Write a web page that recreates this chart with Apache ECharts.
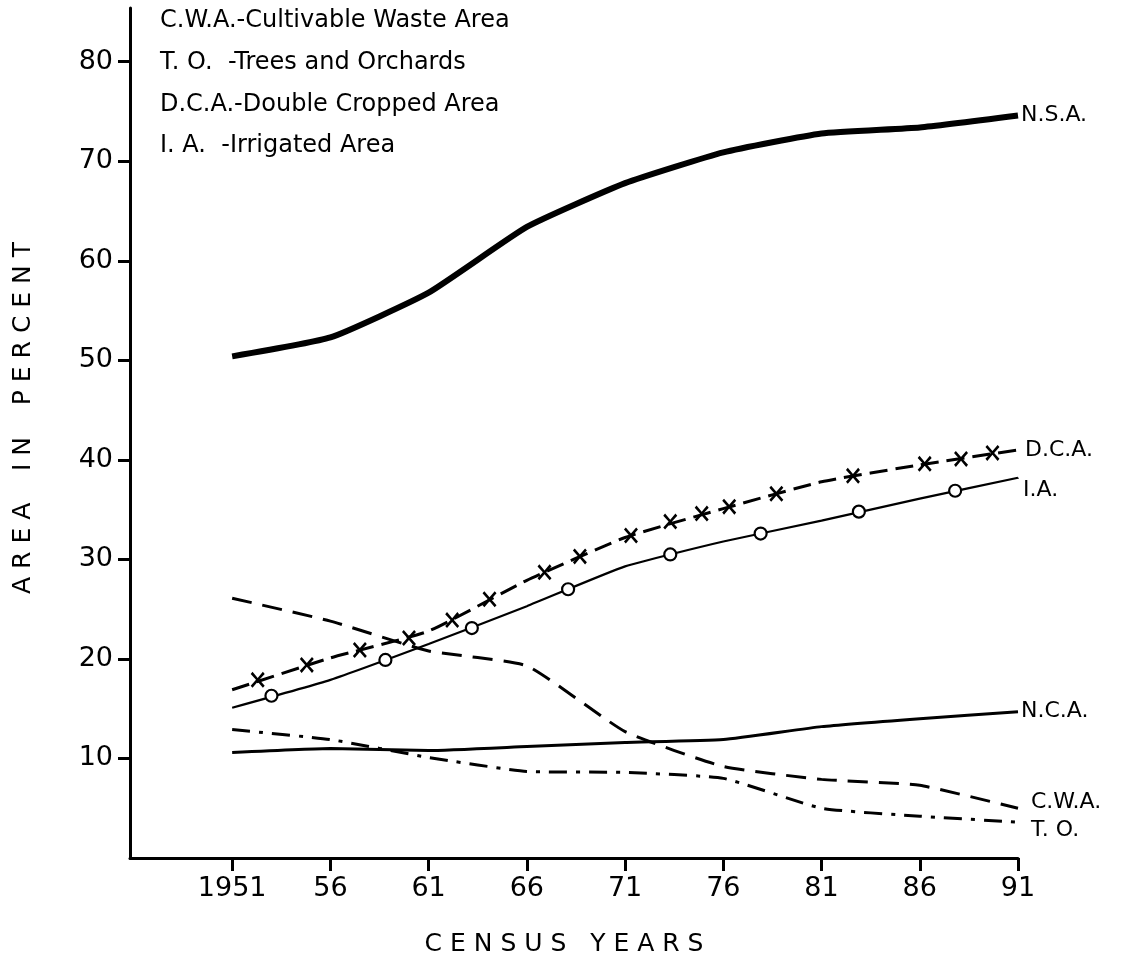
<!DOCTYPE html>
<html>
<head>
<meta charset="utf-8">
<script src="https://cdn.jsdelivr.net/npm/echarts@6/dist/echarts.min.js"></script>
<style>
html,body{margin:0;padding:0;background:#fff;}
#chart{width:1132px;height:962px;}
</style>
</head>
<body>
<div id="chart"></div>
<script>
// ---- data ----
const years = [1951, 1956, 1961, 1966, 1971, 1976, 1981, 1986, 1991];
const tickLabels = ['1951', '56', '61', '66', '71', '76', '81', '86', '91'];
const yTicks = [10, 20, 30, 40, 50, 60, 70, 80];
const nsa = [50.4, 52.3, 56.8, 63.4, 67.8, 70.9, 72.8, 73.4, 74.6];
const dca = [16.9, 20.1, 22.8, 27.9, 32.2, 35.1, 37.8, 39.5, 41.0];
const ia  = [15.1, 17.9, 21.5, 25.3, 29.3, 31.8, 33.9, 36.1, 38.2];
const nca = [10.6, 11.0, 10.8, 11.2, 11.6, 11.9, 13.2, 14.0, 14.7];
const cwa = [26.1, 23.8, 20.8, 19.3, 12.7, 9.2, 7.9, 7.3, 5.0];
const tro = [12.9, 11.9, 10.1, 8.7, 8.6, 8.0, 5.0, 4.2, 3.6];
// marker positions drawn along the D.C.A. and I.A. curves
const dcaMarkYears = [1952.3, 1954.8, 1957.5, 1960.0, 1962.2, 1964.1, 1966.9, 1968.7, 1971.3, 1973.3, 1974.9, 1976.3, 1978.7, 1982.6, 1986.25, 1988.1, 1989.7];
const dcaMarkVals  = [17.9, 19.4, 20.9, 22.1, 23.9, 26.0, 28.7, 30.3, 32.4, 33.8, 34.6, 35.3, 36.6, 38.4, 39.6, 40.1, 40.7];
const iaMarkYears = [1953.0, 1958.8, 1963.2, 1968.1, 1973.3, 1977.9, 1982.9, 1987.8];
const iaMarkVals  = [16.3, 19.9, 23.1, 27.0, 30.5, 32.6, 34.8, 36.9];
const legendLines = ['C.W.A.-Cultivable Waste Area', 'T. O.  -Trees and Orchards', 'D.C.A.-Double Cropped Area', 'I. A.  -Irrigated Area'];
const seriesNames = ['N.S.A.', 'D.C.A.', 'I.A.', 'N.C.A.', 'C.W.A.', 'T. O.'];

const pair = (xs, ys) => xs.map((x, i) => [x, ys[i]]);
const FONT = 'DejaVu Sans';

function lineSeries(name, vals, width, type, labelOffset) {
  return {
    name: name, type: 'line', data: pair(years, vals),
    showSymbol: false, smooth: 0.15, z: 3,
    lineStyle: { color: '#000', width: width, type: type, cap: 'butt' },
    endLabel: { show: true, formatter: name, color: '#000', fontFamily: FONT, fontSize: 22,
                offset: labelOffset, distance: 3 },
    emphasis: { disabled: true }, silent: true
  };
}

const chart = echarts.init(document.getElementById('chart'), null, { renderer: 'canvas' });
chart.setOption({
  backgroundColor: '#fff',
  animation: false,
  grid: { left: 130, right: 114, top: 8, bottom: 104, containLabel: false },
  xAxis: {
    type: 'value', min: 1945.8, max: 1991,
    axisLine: { show: true, lineStyle: { color: '#000', width: 3 } },
    axisTick: { show: true, customValues: years, length: 13, lineStyle: { color: '#000', width: 3 } },
    axisLabel: { customValues: years, margin: 17, color: '#000', fontFamily: FONT, fontSize: 27,
                 formatter: v => tickLabels[years.indexOf(Math.round(v))] || '' },
    splitLine: { show: false },
    name: 'C E N S U S   Y E A R S', nameLocation: 'middle', nameGap: 74,
    nameTextStyle: { color: '#000', fontFamily: FONT, fontSize: 25, padding: [0, 20, 0, 0] }
  },
  yAxis: {
    type: 'value', min: 0, max: 85.4,
    axisLine: { show: true, lineStyle: { color: '#000', width: 3 } },
    axisTick: { show: true, customValues: yTicks, length: 12, lineStyle: { color: '#000', width: 3 } },
    axisLabel: { customValues: yTicks, margin: 17, color: '#000', fontFamily: FONT, fontSize: 27 },
    splitLine: { show: false },
    name: 'A R E A    I N    P E R C E N T', nameLocation: 'middle', nameRotate: 90, nameGap: 94,
    nameTextStyle: { color: '#000', fontFamily: FONT, fontSize: 25, padding: [0, 0, 0, 30] }
  },
  graphic: legendLines.map((t, i) => ({
    type: 'text', left: 160, top: 9 + i * 41.7,
    style: { text: t, fill: '#000', font: '24px "' + FONT + '"' }
  })),
  series: [
    lineSeries(seriesNames[0], nsa, 6, 'solid', [0, 0]),
    lineSeries(seriesNames[1], dca, 3, [18, 8], [4, 0]),
    lineSeries(seriesNames[2], ia, 2.2, 'solid', [2, 12]),
    lineSeries(seriesNames[3], nca, 3, 'solid', [0, 0]),
    lineSeries(seriesNames[4], cwa, 3, [20, 11], [10, -6]),
    lineSeries(seriesNames[5], tro, 3, [18, 9, 4, 9], [10, 8]),
    {
      type: 'scatter', data: pair(dcaMarkYears, dcaMarkVals), z: 5, silent: true,
      symbol: 'path://M1.3,0 L5,3.8 L8.7,0 L10,1.3 L6.2,5 L10,8.7 L8.7,10 L5,6.2 L1.3,10 L0,8.7 L3.8,5 L0,1.3 Z',
      symbolSize: [14, 16], itemStyle: { color: '#000', opacity: 1 }
    },
    {
      type: 'scatter', data: pair(iaMarkYears, iaMarkVals), z: 5, silent: true,
      symbol: 'circle', symbolSize: 12,
      itemStyle: { color: '#fff', borderColor: '#000', borderWidth: 2.2, opacity: 1 }
    }
  ]
});
</script>
</body>
</html>
